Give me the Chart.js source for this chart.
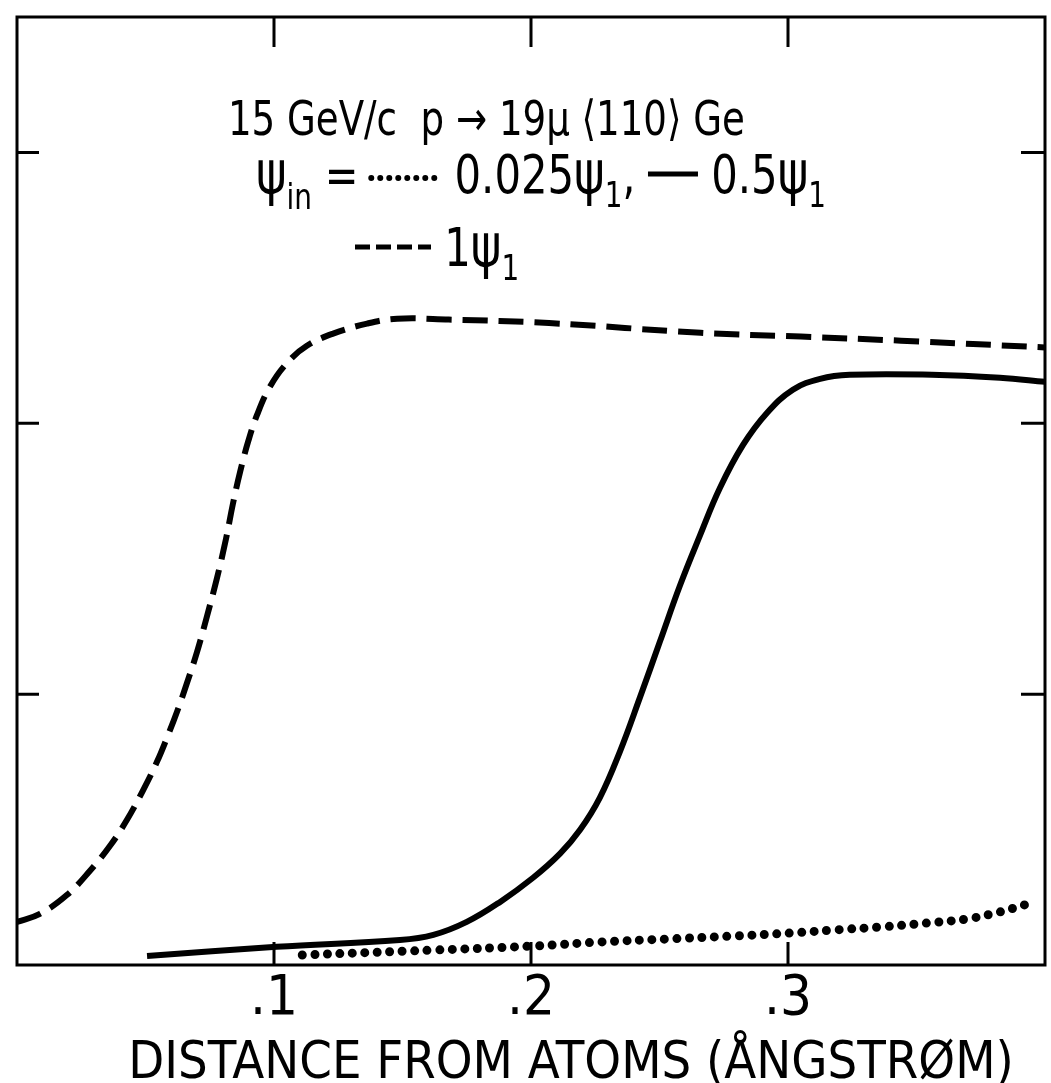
<!DOCTYPE html>
<html>
<head>
<meta charset="utf-8">
<script src="https://cdn.jsdelivr.net/npm/chart.js@4/dist/chart.umd.min.js"></script>
<style>
  html, body { margin: 0; padding: 0; background: #fff; }
  #wrap { width: 1051px; height: 1083px; }
</style>
</head>
<body>
<div id="wrap"><canvas id="channelChart" width="1051" height="1083"></canvas></div>
<script>
const FONT = '"DejaVu Sans Condensed", "Liberation Sans", sans-serif';

// axis ticks
const xTicks = [0.1, 0.2, 0.3];
const yTicks = [1, 2, 3];
const xTitle = 'DISTANCE FROM ATOMS (\u00c5NGSTR\u00d8M)';

// psi_in = 1 psi_1 (dashed)
const dashX = [0.000, 0.0089, 0.0195, 0.0284, 0.0362, 0.0428, 0.049, 0.0545, 0.0584, 0.0623, 0.0661, 0.070, 0.0739, 0.0778, 0.0813, 0.084, 0.0868, 0.0899, 0.0934, 0.0984, 0.1051, 0.1128, 0.123, 0.1362, 0.1479, 0.168, 0.207, 0.266, 0.305, 0.344, 0.400];
const dashY = [0.159, 0.189, 0.259, 0.348, 0.44, 0.536, 0.644, 0.751, 0.84, 0.936, 1.04, 1.154, 1.287, 1.428, 1.572, 1.702, 1.82, 1.931, 2.031, 2.135, 2.223, 2.286, 2.331, 2.368, 2.386, 2.383, 2.37, 2.334, 2.32, 2.305, 2.28];

// psi_in = 0.5 psi_1 (solid)
const solidX = [0.0506, 0.101, 0.149, 0.162, 0.175, 0.188, 0.2008, 0.2113, 0.2191, 0.2268, 0.2346, 0.2424, 0.2502, 0.258, 0.2658, 0.2735, 0.2825, 0.2918, 0.3019, 0.3125, 0.324, 0.356, 0.3825, 0.400];
const solidY = [0.033, 0.067, 0.092, 0.111, 0.159, 0.233, 0.322, 0.411, 0.499, 0.618, 0.788, 0.988, 1.195, 1.402, 1.587, 1.761, 1.92, 2.038, 2.124, 2.164, 2.179, 2.179, 2.168, 2.153];

// psi_in = 0.025 psi_1 (dotted)
const dotX = [0.111, 0.162, 0.201, 0.227, 0.253, 0.279, 0.301, 0.3175, 0.337, 0.354, 0.3696, 0.3825, 0.392];
const dotY = [0.037, 0.055, 0.070, 0.085, 0.096, 0.107, 0.118, 0.129, 0.141, 0.155, 0.170, 0.196, 0.222];

const toPoints = (xs, ys) => xs.map((x, i) => ({ x: x, y: ys[i] }));

// frame with inward tick marks, axis title and the in-plot legend text
const framePlugin = {
  id: 'frame',
  afterDraw(chart) {
    const ctx = chart.ctx;
    const a = chart.chartArea;
    const xs = chart.scales.x, ys = chart.scales.y;
    ctx.save();
    ctx.strokeStyle = '#000';
    ctx.lineWidth = 3;
    ctx.strokeRect(a.left, a.top, a.right - a.left, a.bottom - a.top);
    ctx.beginPath();
    xTicks.forEach(v => {
      const px = xs.getPixelForValue(v);
      ctx.moveTo(px, a.bottom); ctx.lineTo(px, a.bottom - 23);
      ctx.moveTo(px, a.top); ctx.lineTo(px, a.top + 30);
    });
    yTicks.forEach(v => {
      const py = ys.getPixelForValue(v);
      ctx.moveTo(a.left, py); ctx.lineTo(a.left + 22, py);
      ctx.moveTo(a.right, py); ctx.lineTo(a.right - 24, py);
    });
    ctx.stroke();

    ctx.fillStyle = '#000';
    ctx.textBaseline = 'alphabetic';
    ctx.textAlign = 'center';
    ctx.font = '52px ' + FONT;
    ctx.fillText(xTitle, 571, 1078);

    ctx.textAlign = 'left';
    const hs = 0.86;
    const sample = (x, y, w, style) => {
      ctx.save();
      ctx.beginPath();
      ctx.lineWidth = style.w;
      ctx.lineCap = style.cap;
      ctx.setLineDash(style.dash);
      ctx.moveTo(x, y); ctx.lineTo(x + w, y);
      ctx.stroke();
      ctx.restore();
    };
    const runs = (x, y, items) => {
      items.forEach(r => {
        if (r.sample) {
          sample(x, y - r.up, r.len, r.sample);
          x += r.len;
          return;
        }
        ctx.font = (r.size || 52) + 'px ' + FONT;
        ctx.save();
        ctx.translate(x, y + (r.dy || 0));
        ctx.scale(hs, 1);
        ctx.fillText(r.t, 0, 0);
        ctx.restore();
        x += ctx.measureText(r.t).width * hs;
      });
    };
    const dots = { w: 6, cap: 'round', dash: [0, 9] };
    const solid = { w: 5, cap: 'butt', dash: [] };
    const dashed = { w: 5, cap: 'butt', dash: [15, 6] };

    runs(228, 135, [{ t: '15 GeV/c  p \u2192 19\u03bc \u27e8110\u27e9 Ge', size: 48 }]);
    runs(256, 193, [
      { t: '\u03c8', size: 60 }, { t: 'in', size: 36, dy: 16 }, { t: ' = ', size: 52 },
      { sample: dots, len: 70, up: 15 }, { t: ' 0.025', size: 54 },
      { t: '\u03c8', size: 60 }, { t: '1', size: 36, dy: 14 }, { t: ', ', size: 52 },
      { sample: solid, len: 50, up: 19 }, { t: ' 0.5', size: 54 },
      { t: '\u03c8', size: 60 }, { t: '1', size: 36, dy: 14 }
    ]);
    runs(355, 266, [
      { sample: dashed, len: 76, up: 19 }, { t: ' 1', size: 54 },
      { t: '\u03c8', size: 60 }, { t: '1', size: 36, dy: 14 }
    ]);
    ctx.restore();
  }
};

new Chart(document.getElementById('channelChart'), {
  type: 'line',
  data: {
    datasets: [
      {
        label: '1 psi1',
        data: toPoints(dashX, dashY),
        borderColor: '#000',
        borderWidth: 6,
        borderDash: [25, 11],
        pointRadius: 0,
        tension: 0.4
      },
      {
        label: '0.5 psi1',
        data: toPoints(solidX, solidY),
        borderColor: '#000',
        borderWidth: 6,
        pointRadius: 0,
        tension: 0.4
      },
      {
        label: '0.025 psi1',
        data: toPoints(dotX, dotY),
        borderColor: '#000',
        borderWidth: 9,
        borderCapStyle: 'round',
        borderDash: [0, 12.5],
        pointRadius: 0,
        tension: 0.4
      }
    ]
  },
  options: {
    responsive: false,
    animation: false,
    layout: { padding: { left: 17, right: 6, top: 17, bottom: 50 } },
    plugins: { legend: { display: false }, tooltip: { enabled: false } },
    scales: {
      x: {
        type: 'linear',
        min: 0,
        max: 0.4,
        grid: { display: false, drawTicks: false },
        border: { display: false },
        ticks: {
          stepSize: 0.1,
          autoSkip: false,
          maxRotation: 0,
          padding: 6,
          color: '#000',
          font: { family: FONT, size: 56, lineHeight: 1 },
          callback: v => (v > 0.05 && v < 0.35) ? '.' + Math.round(v * 10) : ''
        }
      },
      y: {
        display: false,
        min: 0,
        max: 3.5
      }
    }
  },
  plugins: [framePlugin]
});
</script>
</body>
</html>
